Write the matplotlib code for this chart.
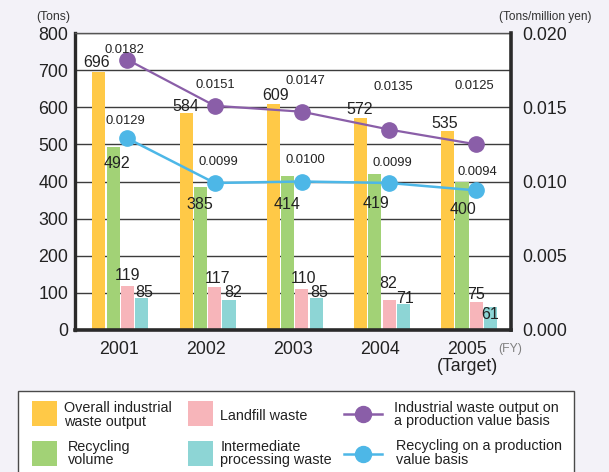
import matplotlib
matplotlib.use("Agg")
import matplotlib.pyplot as plt
from matplotlib.patches import Rectangle
from matplotlib.lines import Line2D
import numpy as np

# ---- data -------------------------------------------------------------
years = ["2001", "2002", "2003", "2004", "2005\n(Target)"]
overall_output = [696, 584, 609, 572, 535]          # tons
recycling_volume = [492, 385, 414, 419, 400]        # tons
landfill_waste = [119, 117, 110, 82, 75]            # tons
intermediate_waste = [85, 82, 85, 71, 61]           # tons
output_per_value = [0.0182, 0.0151, 0.0147, 0.0135, 0.0125]     # tons / million yen
recycling_per_value = [0.0129, 0.0099, 0.0100, 0.0099, 0.0094]  # tons / million yen

left_ticks = [0, 100, 200, 300, 400, 500, 600, 700, 800]
right_ticks = [0.000, 0.005, 0.010, 0.015, 0.020]

# ---- styling ----------------------------------------------------------
C_YELLOW = "#FFC947"
C_GREEN = "#A2D276"
C_PINK = "#F7B5BA"
C_CYAN = "#8DD5D5"
C_PURPLE = "#8A5EA8"
C_BLUE = "#4DB7E7"
BG = "#F3F2F8"
TXT = "#222222"

REG = ["Liberation Sans", "DejaVu Sans"]
plt.rcParams["font.family"] = REG

W, H = 609, 472
fig = plt.figure(figsize=(W / 100, H / 100), dpi=100, facecolor=BG)

# main axes (pixel box 75..511 x 33..330)
ax = fig.add_axes([75 / W, 1 - 330 / H, 436 / W, 297 / H])
ax.set_facecolor("white")
ax2 = ax.twinx()

x = np.arange(len(years))
pitch = 0.164
bw = 0.150
shift = 0.02
pos_y = x + shift - 1.5 * pitch
pos_g = x + shift - 0.5 * pitch
pos_p = x + shift + 0.5 * pitch
pos_c = x + shift + 1.5 * pitch

ax.bar(pos_y, overall_output, bw, color=C_YELLOW, zorder=2)
ax.bar(pos_g, recycling_volume, bw, color=C_GREEN, zorder=2)
ax.bar(pos_p, landfill_waste, bw, color=C_PINK, zorder=2)
ax.bar(pos_c, intermediate_waste, bw, color=C_CYAN, zorder=2)

ax.set_xlim(-0.5, len(years) - 0.5)
ax.set_ylim(0, 800)
ax.set_yticks(left_ticks)
ax.set_xticks(x)
ax.set_xticklabels(years)
for lab in ax.get_xticklabels():
    lab.set_linespacing(1.0)
ax.yaxis.grid(True, color="#3c3c3c", lw=1.0, zorder=0)
ax.set_axisbelow(True)
ax.tick_params(axis="both", length=0, labelsize=12.8, colors=TXT)
ax.tick_params(axis="y", pad=5)
ax.tick_params(axis="x", pad=8)

ax.spines["right"].set_visible(False)
ax.spines["top"].set_color("#555555")
ax.spines["top"].set_linewidth(1.0)
ax.spines["left"].set_color("#2a2a2a")
ax.spines["left"].set_linewidth(2.4)
ax.spines["bottom"].set_color("#2a2a2a")
ax.spines["bottom"].set_linewidth(2.6)

# secondary axis: per production value lines
ax2.plot(pos_p, output_per_value, color=C_PURPLE, lw=1.6, marker="o",
         ms=11, mec=C_PURPLE, mfc=C_PURPLE, zorder=4, clip_on=False)
ax2.plot(pos_p, recycling_per_value, color=C_BLUE, lw=1.8, marker="o",
         ms=11, mec=C_BLUE, mfc=C_BLUE, zorder=4, clip_on=False)
ax2.set_ylim(0, 0.020)
ax2.set_yticks(right_ticks)
ax2.set_yticklabels([f"{t:.3f}" for t in right_ticks])
ax2.tick_params(axis="y", length=0, labelsize=12.8, colors=TXT, pad=8)
for side in ("left", "top", "bottom"):
    ax2.spines[side].set_visible(False)
ax2.spines["right"].set_color("#2a2a2a")
ax2.spines["right"].set_linewidth(2.6)

# ---- value labels (offsets in pixels from bar top / marker centre) ----
def put_labels(axis, xs, vals, texts, offs, size, color=TXT):
    for xi, v, t, (dx, dy) in zip(xs, vals, texts, offs):
        axis.annotate(t, (xi, v), xytext=(dx, dy), textcoords="offset pixels",
                      ha="center", va="center_baseline", fontsize=size,
                      color=color, zorder=6, annotation_clip=False)

off_yellow = [(-2, 10.5), (0, 8.5), (2.5, 9.5), (-1, 9.3), (-3, 9.7)]
off_green = [(3.4, -14.4), (-0.5, -16.2), (-0.7, -26.7), (1.1, -27.3), (1.2, -26.8)]
off_pink = [(0, 11.5), (2.9, 9.9), (1.3, 11.9), (-0.5, 17.9), (-0.7, 9.5)]
off_cyan = [(2.6, 7.4), (3.8, 8.9), (3.2, 7.4), (1.7, 6.3), (-0.5, -5.3)]
off_purple = [(-2.8, 11.5), (1, 22.5), (3, 32.7), (4.4, 44.5), (-1.7, 60)]
off_blue = [(-2.5, 19.4), (3.3, 22.3), (3, 23.2), (3.4, 21.3), (1, 20.4)]

put_labels(ax, pos_y, overall_output, [str(v) for v in overall_output], off_yellow, 11.5)
put_labels(ax, pos_g, recycling_volume, [str(v) for v in recycling_volume], off_green, 11.5)
put_labels(ax, pos_p, landfill_waste, [str(v) for v in landfill_waste], off_pink, 11.5)
put_labels(ax, pos_c, intermediate_waste, [str(v) for v in intermediate_waste], off_cyan, 11.5)
put_labels(ax2, pos_p, output_per_value, [f"{v:.4f}" for v in output_per_value], off_purple, 9.4)
put_labels(ax2, pos_p, recycling_per_value, [f"{v:.4f}" for v in recycling_per_value], off_blue, 9.4)

# ---- overlay in pixel coordinates for captions and legend ------------
ov = fig.add_axes([0, 0, 1, 1], facecolor="none")
ov.set_xlim(0, W)
ov.set_ylim(H, 0)
ov.axis("off")

ov.text(53.5, 17, "(Tons)", ha="center", va="center", fontsize=8.8,
        color="#333333")
ov.text(545.5, 17, "(Tons/million yen)", ha="center", va="center", fontsize=8.6,
        color="#333333")
ov.text(510, 349, "(FY)", ha="center", va="center", fontsize=8.8,
        color="#808080")

# legend box
ov.add_patch(Rectangle((17.5, 391), 556.5, 100, facecolor="white",
                       edgecolor="#4a4a4a", lw=1.0, clip_on=False))

def swatch(x0, y0, color):
    ov.add_patch(Rectangle((x0, y0), 24.5, 24.5, facecolor=color,
                           edgecolor="none"))

def line_key(x0, x1, y, color):
    ov.add_line(Line2D([x0, x1], [y, y], color=color, lw=1.8))
    ov.add_line(Line2D([(x0 + x1) / 2], [y], color=color, marker="o",
                       ms=11.5, mfc=color, mec=color))

LEG_FS = 10.4
swatch(32, 401, C_YELLOW)
ov.text(64, 415, "Overall industrial\nwaste output", ha="left", va="center",
        fontsize=LEG_FS, color=TXT, linespacing=0.98)
swatch(32, 441, C_GREEN)
ov.text(68, 453.5, "Recycling\nvolume", ha="left", va="center",
        fontsize=LEG_FS, color=TXT, linespacing=0.98)
swatch(188.3, 401, C_PINK)
ov.text(220.5, 415.5, "Landfill waste", ha="left", va="center",
        fontsize=LEG_FS, color=TXT)
swatch(188.3, 441, C_CYAN)
ov.text(220.5, 453.5, "Intermediate\nprocessing waste", ha="left", va="center",
        fontsize=LEG_FS, color=TXT, linespacing=0.98)
line_key(343.5, 381.5, 414.3, C_PURPLE)
ov.text(394, 414.5, "Industrial waste output on\na production value basis",
        ha="left", va="center", fontsize=LEG_FS, color=TXT, linespacing=0.98)
line_key(343.5, 381.5, 454.3, C_BLUE)
ov.text(395.5, 453, "Recycling on a production\nvalue basis",
        ha="left", va="center", fontsize=LEG_FS, color=TXT, linespacing=0.98)

fig.savefig("out.png", dpi=100, facecolor=BG)
